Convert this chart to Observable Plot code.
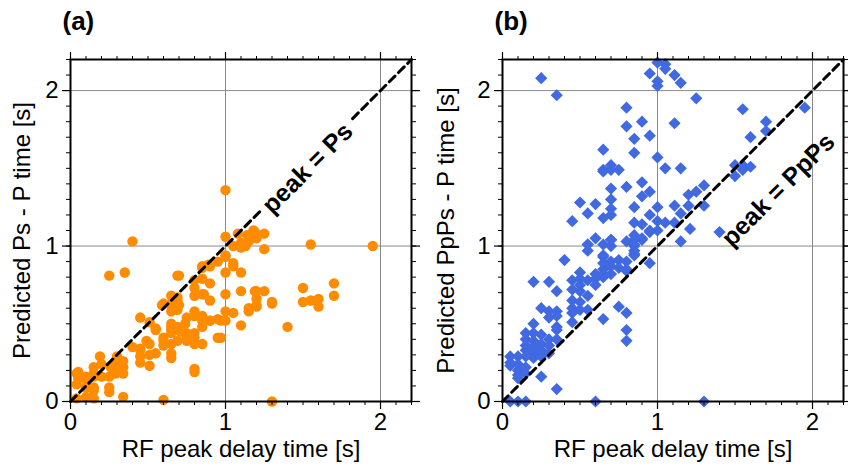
<!DOCTYPE html>
<html><head><meta charset="utf-8">
<script src="https://cdn.jsdelivr.net/npm/d3@7"></script>
<script src="https://cdn.jsdelivr.net/npm/@observablehq/plot@0.6"></script>
<style>
body{margin:0;background:#fff;}
#wrap{display:flex;width:848px;height:469px;overflow:hidden;}
#wrap svg{flex:none;}
</style></head><body><div id="wrap"></div>
<script>
// Panel (a): RF peak delay vs predicted Ps - P time
const psDelay = [0.40,0.25,0.35,1.00,1.08,1.14,1.18,1.05,1.13,1.00,0.95,0.89,0.85,1.05,1.00,1.10,0.85,0.90,0.69,0.80,0.80,0.85,0.90,1.00,1.10,1.19,1.15,1.20,0.65,0.60,0.65,0.69,0.65,0.69,0.45,0.51,0.55,0.80,0.75,0.85,0.90,0.95,1.00,1.05,1.00,1.10,0.65,0.69,0.65,0.60,0.71,0.75,0.80,0.75,0.80,0.85,0.95,0.60,0.65,0.65,0.40,0.45,0.51,0.45,0.51,0.55,0.51,0.45,0.80,0.80,0.34,0.30,0.34,0.30,0.26,0.25,0.19,0.20,0.15,0.15,0.10,0.15,0.10,0.04,0.04,0.10,0.15,0.25,0.28,0.34,0.34,0.60,0.04,1.00,1.19,1.25,1.15,1.20,1.10,1.10,1.25,1.55,1.95,1.05,1.20,1.25,1.20,1.30,1.30,1.15,1.20,1.50,1.70,1.70,1.50,1.55,1.60,1.60,1.40,1.30,0.97,0.97,0.59,0.65,0.69,0.65,0.70,0.86,0.49,0.55,0.45,0.29,0.29,0.25,0.15,0.20,0.15,0.10,0.05,0.05,0.65,0.65,0.69,0.60,0.65,0.69,0.74,0.80,0.85,0.90,0.85,0.80,0.75,0.85,0.80,0.70,1.00,0.90];
const psPred  = [1.03,0.81,0.83,1.06,1.08,1.07,1.10,1.00,1.00,0.94,0.90,0.88,0.87,0.89,0.83,0.83,0.79,0.76,0.81,0.73,0.68,0.69,0.65,0.69,0.71,0.71,0.60,0.62,0.68,0.63,0.63,0.65,0.58,0.59,0.54,0.51,0.47,0.58,0.54,0.52,0.52,0.53,0.52,0.57,0.58,0.49,0.50,0.48,0.46,0.41,0.45,0.44,0.41,0.39,0.37,0.37,0.41,0.36,0.31,0.28,0.35,0.34,0.37,0.29,0.30,0.31,0.23,0.25,0.21,0.19,0.26,0.29,0.22,0.22,0.22,0.16,0.29,0.24,0.18,0.16,0.16,0.07,0.09,0.18,0.11,0.03,0.02,0.06,0.24,0.18,0.03,0.01,0.02,1.36,1.09,1.08,1.03,1.05,1.02,0.99,0.98,1.01,1.00,0.87,0.71,0.71,0.66,0.64,0.63,0.58,0.61,0.73,0.76,0.68,0.64,0.65,0.66,0.61,0.48,0.00,0.41,0.52,0.62,0.62,0.67,0.62,0.62,0.69,0.39,0.46,0.33,0.26,0.18,0.09,0.09,0.16,0.22,0.14,0.19,0.15,0.48,0.44,0.46,0.39,0.37,0.39,0.50,0.55,0.55,0.52,0.48,0.44,0.41,0.86,0.78,0.81,0.93,0.87];

// Panel (b): RF peak delay vs predicted PpPs - P time
const ppDelay = [1.00,1.05,1.05,0.95,1.11,1.00,1.00,1.15,1.25,1.55,0.80,0.80,0.90,1.11,0.85,0.95,0.85,0.65,1.00,1.60,0.65,0.65,0.70,0.70,0.75,1.05,1.15,1.50,1.55,1.60,1.50,1.55,0.70,0.80,0.90,0.90,0.95,0.70,1.30,1.25,1.20,0.50,0.60,0.55,0.45,0.70,0.70,0.65,0.85,0.95,0.85,0.90,1.00,1.11,1.20,1.30,1.15,1.00,1.05,1.00,1.11,0.95,1.40,0.60,0.55,0.65,0.70,0.70,0.80,0.85,0.85,0.90,0.85,1.15,0.65,0.75,0.80,0.80,0.80,0.95,0.70,0.65,0.70,0.65,0.70,0.75,0.75,0.80,0.80,0.85,0.85,0.85,0.65,0.55,0.55,0.90,0.85,0.95,0.40,0.65,0.65,0.70,0.80,0.50,0.50,0.45,0.55,0.50,0.50,0.60,0.60,0.60,0.65,0.55,0.45,0.20,0.30,0.35,0.25,0.30,0.30,0.35,0.35,0.45,0.45,0.45,0.50,0.50,0.55,0.45,0.20,0.35,0.35,0.15,0.15,0.15,0.15,0.20,0.20,0.20,0.20,0.25,0.25,0.25,0.30,0.30,0.35,0.20,0.15,0.10,0.05,0.05,0.10,0.10,0.15,0.10,0.05,0.10,0.15,0.25,0.35,0.30,0.25,0.05,0.10,0.15,0.60,0.25,0.35,1.95,1.70,1.70,1.21,1.30];
const ppPred  = [2.18,2.17,2.14,2.11,2.10,2.06,2.03,2.05,1.95,1.88,1.89,1.77,1.80,1.79,1.69,1.71,1.60,1.62,1.57,1.70,1.49,1.48,1.52,1.49,1.49,1.50,1.50,1.52,1.52,1.51,1.45,1.49,1.37,1.38,1.41,1.32,1.35,1.30,1.39,1.35,1.33,1.28,1.27,1.21,1.16,1.24,1.20,1.18,1.25,1.20,1.15,1.14,1.25,1.26,1.26,1.26,1.21,1.16,1.15,1.10,1.15,1.10,1.09,1.05,1.01,1.01,1.04,1.00,1.03,1.07,1.04,1.04,1.00,1.03,0.53,0.61,0.57,0.46,0.39,0.89,1.04,0.93,0.90,0.85,0.82,0.91,0.86,0.90,0.85,1.01,0.97,0.94,0.80,1.01,0.97,1.05,0.95,1.09,0.91,0.94,0.89,0.87,0.84,0.83,0.79,0.78,0.78,0.75,0.71,0.82,0.79,0.75,0.82,0.68,0.72,0.77,0.77,0.71,0.60,0.58,0.54,0.58,0.55,0.65,0.60,0.57,0.64,0.59,0.59,0.51,0.50,0.48,0.46,0.44,0.40,0.36,0.33,0.44,0.39,0.35,0.31,0.43,0.37,0.33,0.40,0.36,0.40,0.28,0.29,0.29,0.29,0.25,0.24,0.20,0.22,0.17,0.23,0.15,0.18,0.16,0.08,0.31,0.29,0.00,0.00,0.00,0.00,2.08,1.97,1.89,1.80,1.74,1.11,0.00];

const majorTicks = [0, 1, 2];
const gridValues = [1, 2];
const minorTicks = d3.range(0, 23).map(i => i / 10);
// 1:1 reference line; NaN breaks the dashes where the label sits in panel (a)
const diagA = [0, 1.22, NaN, 1.82, 2.2];
const diagB = [0, 2.2];
const FONT = "'Liberation Sans', Arial, Helvetica, sans-serif";

function panel({xs, ys, color, symbol, r, tag, ylabel, note, noteX, noteY, diag, mL, mR}) {
  const data = xs.map((x, i) => ({x, y: ys[i]}));
  return Plot.plot({
    width: 424, height: 469,
    marginLeft: mL, marginRight: mR, marginTop: 59, marginBottom: 68,
    x: {domain: [0, 2.2], axis: null},
    y: {domain: [0, 2.2], axis: null},
    style: {fontFamily: FONT, fontSize: "24px", background: "white", color: "black"},
    marks: [
      Plot.gridX(gridValues, {stroke: "#8a8a8a", strokeOpacity: 1, strokeWidth: 1}),
      Plot.gridY(gridValues, {stroke: "#8a8a8a", strokeOpacity: 1, strokeWidth: 1}),
      Plot.dot(data, {x: "x", y: "y", fill: color, r, symbol, stroke: "none"}),
      Plot.line(diag, {x: d => d, y: d => d, stroke: "black", strokeWidth: 3, strokeDasharray: "8,5"}),
      Plot.text([note], {x: () => noteX, y: () => noteY, text: d => d, rotate: -45, fontWeight: "bold", fontSize: 25, fill: "black", textAnchor: "middle", lineAnchor: "middle"}),
      Plot.frame({stroke: "black", strokeWidth: 2}),
      Plot.axisX(majorTicks, {anchor: "bottom", tickSize: 8, tickPadding: 3, fontSize: 24, tickFormat: d3.format("d"), label: null, strokeWidth: 1.2}),
      Plot.axisX(minorTicks, {anchor: "bottom", tickSize: 4, tickFormat: () => "", label: null, strokeWidth: 1}),
      Plot.axisX(majorTicks, {anchor: "top", tickSize: 8, tickFormat: () => "", label: null, strokeWidth: 1.2}),
      Plot.axisX(minorTicks, {anchor: "top", tickSize: 4, tickFormat: () => "", label: null, strokeWidth: 1}),
      Plot.axisY(majorTicks, {anchor: "left", tickSize: 8, tickPadding: 4, fontSize: 24, tickFormat: d3.format("d"), label: null, strokeWidth: 1.2}),
      Plot.axisY(minorTicks, {anchor: "left", tickSize: 4, tickFormat: () => "", label: null, strokeWidth: 1}),
      Plot.axisY(majorTicks, {anchor: "right", tickSize: 8, tickFormat: () => "", label: null, strokeWidth: 1.2}),
      Plot.axisY(minorTicks, {anchor: "right", tickSize: 4, tickFormat: () => "", label: null, strokeWidth: 1}),
      Plot.text(["RF peak delay time [s]"], {frameAnchor: "bottom", dy: 48, fontSize: 24, textAnchor: "middle", lineAnchor: "middle"}),
      Plot.text([ylabel], {frameAnchor: "left", rotate: -90, dx: -mL + 22, fontSize: 24, textAnchor: "middle", lineAnchor: "middle"}),
      Plot.text([tag], {frameAnchor: "top-left", dx: -8, dy: -38, textAnchor: "start", lineAnchor: "middle", fontWeight: "bold", fontSize: 26})
    ]
  });
}

const wrap = document.getElementById("wrap");
wrap.appendChild(panel({xs: psDelay, ys: psPred, color: "#FF8C00", symbol: "circle", r: 5.2, tag: "(a)", ylabel: "Predicted Ps - P time [s]", note: "peak = Ps", noteX: 1.53, noteY: 1.50, diag: diagA, mL: 70, mR: 13}));
wrap.appendChild(panel({xs: ppDelay, ys: ppPred, color: "#4169E1", symbol: "diamond2", r: 5.5, tag: "(b)", ylabel: "Predicted PpPs - P time [s]", note: "peak = PpPs", noteX: 1.78, noteY: 1.36, diag: diagB, mL: 78, mR: 5}));
</script>
</body></html>
